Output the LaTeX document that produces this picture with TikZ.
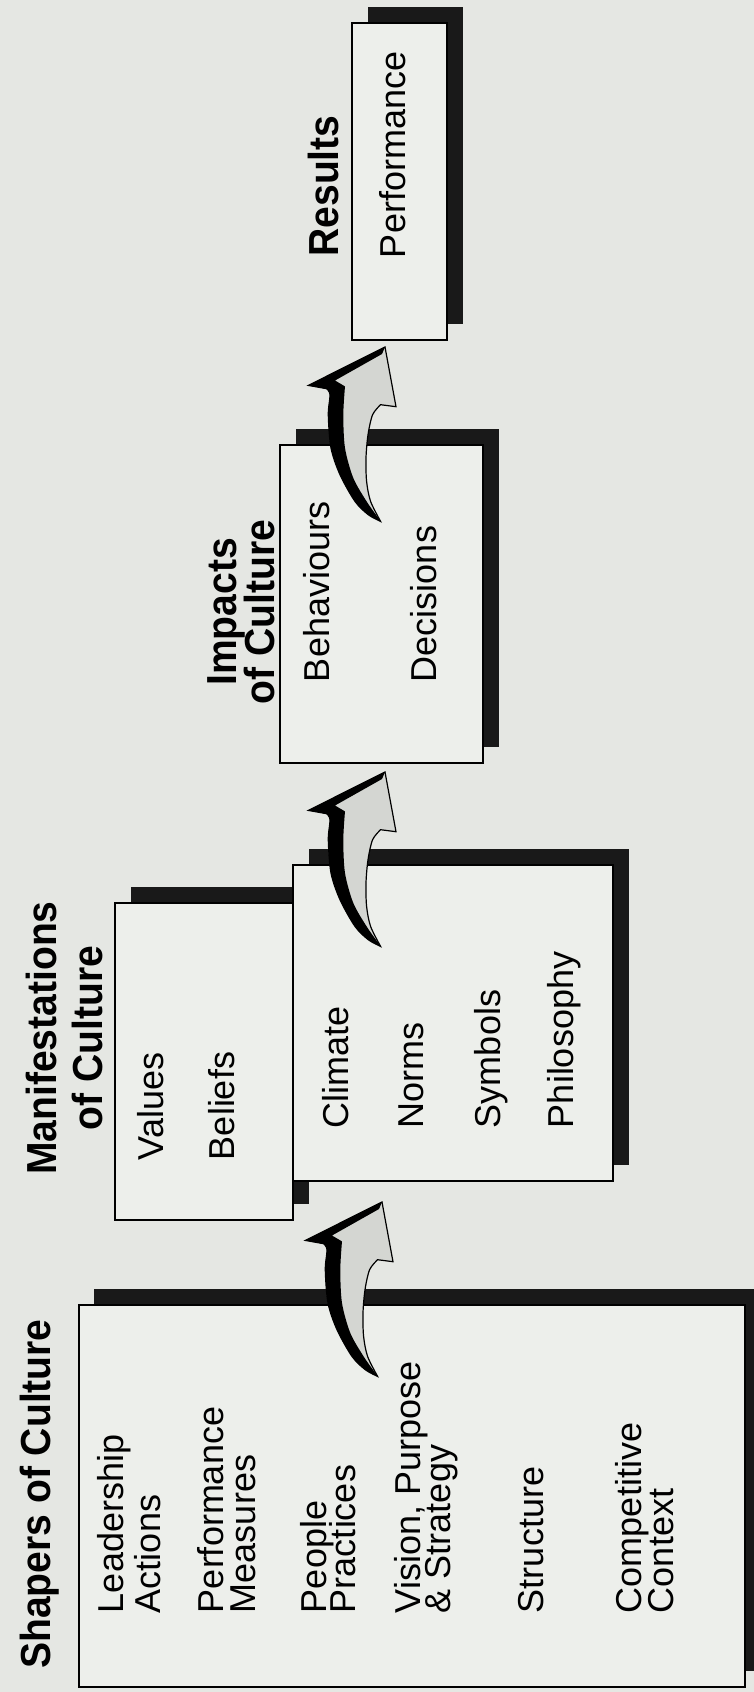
\documentclass[tikz,border=0pt]{standalone}
\usepackage{fontspec}
\setmainfont{Liberation Sans}
\newfontfamily\titlefont[FakeStretch=0.93]{Liberation Sans Bold}
\definecolor{paper}{RGB}{229,231,227}
\definecolor{boxfill}{RGB}{237,239,235}
\definecolor{arrowgray}{RGB}{212,214,210}
\begin{document}
\begin{tikzpicture}[x=1pt,y=-1pt,
  shadowrect/.style={fill=black!90},
  cbox/.style={fill=boxfill,draw=black,line width=1.3pt},
  item/.style={rotate=90,anchor=base west,inner sep=0pt,outer sep=0pt,font=\fontsize{36}{36}\selectfont},
  ttl/.style={rotate=90,anchor=base,inner sep=0pt,outer sep=0pt,font=\titlefont\fontsize{42}{42}\selectfont},
  arrowbody/.style={fill=arrowgray,draw=black,line width=1.2pt,line join=miter},
  arrowside/.style={fill=black}
]
\useasboundingbox (0,0) rectangle (754,1692);
\clip (0,0) rectangle (754,1692);
\fill[paper] (0,0) rectangle (754,1692);

% boxes with drop shadows
\fill[shadowrect] (94,1289) rectangle (761,1671);
\draw[cbox] (79,1305) rectangle (745,1687);
\fill[shadowrect] (131,887) rectangle (309,1204);
\draw[cbox] (115,903) rectangle (293,1220);
\fill[shadowrect] (309,849) rectangle (629,1165);
\draw[cbox] (293,865) rectangle (613,1181);
\fill[shadowrect] (296,429) rectangle (499,747);
\draw[cbox] (280,445) rectangle (483,763);
\fill[shadowrect] (368,7) rectangle (463,324);
\draw[cbox] (352,23) rectangle (447,340);

% titles
\node[ttl] (t1) at (50,1494) {Shapers of Culture};
\node[ttl] (t2a) at (56,1038) {Manifestations};
\node[ttl] (t2b) at (102,1038) {of Culture};
\node[ttl] (t3a) at (236,612) {Impacts};
\node[ttl] (t3b) at (274,612) {of Culture};
\node[ttl] (t4) at (338,186) {Results};

% shapers
\node[item] (s1) at (123,1613) {Leadership};
\node[item] (s2) at (160,1613) {Actions};
\node[item] (s3) at (223,1613) {Performance};
\node[item] (s4) at (255,1613) {Measures};
\node[item] (s5) at (326,1613) {People};
\node[item] (s6) at (355,1613) {Practices};
\node[item] (s7) at (420,1613) {Vision, Purpose};
\node[item] (s8) at (450,1613) {\& Strategy};
\node[item] (s9) at (543,1613) {Structure};
\node[item] (s10) at (641,1613) {Competitive};
\node[item] (s11) at (673,1613) {Context};
% manifestations
\node[item] (m1) at (163,1160) {Values};
\node[item] (m2) at (234,1160) {Beliefs};
\node[item] (m3) at (348,1128) {Climate};
\node[item] (m4) at (423,1128) {Norms};
\node[item] (m5) at (500,1128) {Symbols};
\node[item] (m6) at (573,1128) {Philosophy};
% impacts
\node[item] (i1) at (329,682) {Behaviours};
\node[item] (i2) at (436,682) {Decisions};
% results
\node[item] (r1) at (405,258) {Performance};

% curved block arrows
\foreach \tx/\ty [count=\k] in {382/1202, 385/772, 385/347}{
  \begin{scope}[shift={(\tx,\ty)}]
    \coordinate (tip\k) at (0,0);
    \filldraw[arrowbody] (0,0) -- (11,59.7) -- (-4.4,57.7)
      -- plot[smooth] coordinates {(-4.4,57.7) (-12.4,67.7) (-17,87.7) (-19,111) (-18.4,134.4) (-14.4,154.4) (-4.4,174.4)}
      -- plot[smooth] coordinates {(-4.4,174.4) (-16.7,167.7) (-30,154.4) (-45,127.7) (-54,101) (-56.7,67.7) (-55,47.7) (-58.4,41.7)}
      -- (-76.7,38.4) -- cycle;
    \fill[arrowside] (-76.7,38.4) -- (0,0) -- (-3,7) -- (-50,33.5) -- (-40,39.4)
      -- plot[smooth] coordinates {(-40,39.4) (-41.7,67.7) (-40,101) (-31.7,131) (-18.4,154.4) (-6.7,171) (-4.4,174.4)}
      -- plot[smooth] coordinates {(-4.4,174.4) (-16.7,167.7) (-30,154.4) (-45,127.7) (-54,101) (-56.7,67.7) (-55,47.7) (-58.4,41.7)}
      -- cycle;
  \end{scope}
}
\end{tikzpicture}
\end{document}
